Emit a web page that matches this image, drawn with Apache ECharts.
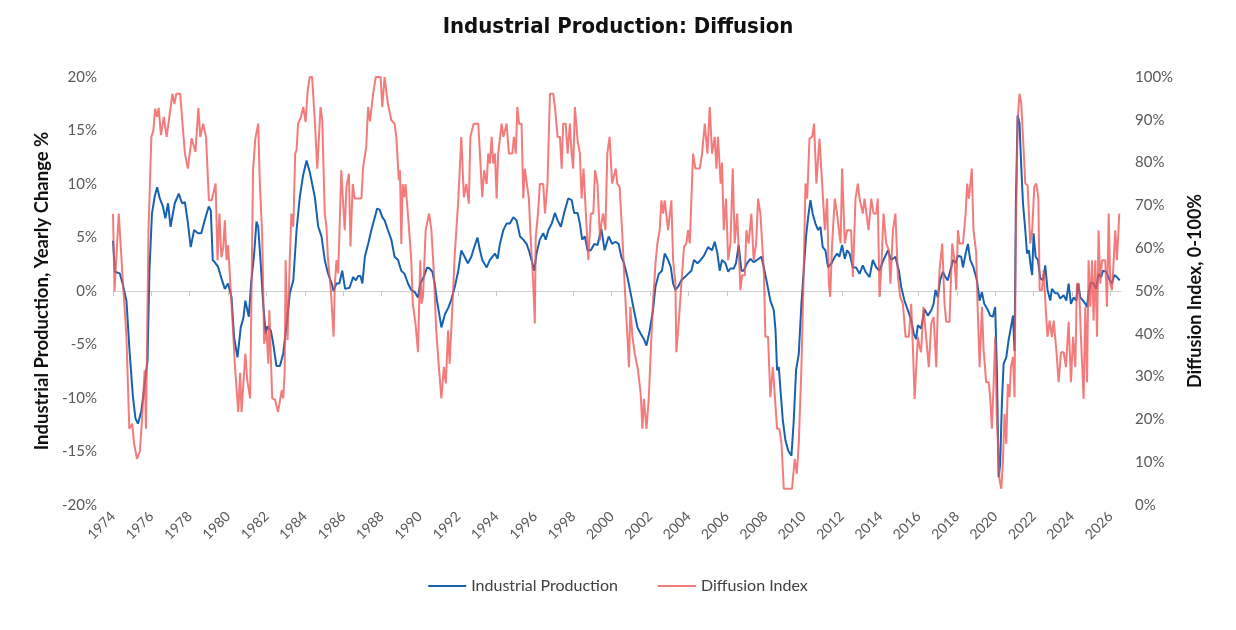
<!doctype html>
<html>
<head>
<meta charset="utf-8">
<title>Industrial Production: Diffusion</title>
<script src="https://cdn.jsdelivr.net/npm/echarts@6/dist/echarts.min.js"></script>
<style>
  html, body { margin: 0; padding: 0; background: #fff; }
  #chart { width: 1236px; height: 630px; }
</style>
</head>
<body>
<div id="chart"></div>
<script>
// x tick labels (every two years)
var yearTicks = [1974, 1976, 1978, 1980, 1982, 1984, 1986, 1988, 1990, 1992, 1994, 1996, 1998, 2000,
                 2002, 2004, 2006, 2008, 2010, 2012, 2014, 2016, 2018, 2020, 2022, 2024, 2026];

// Industrial Production, yearly change %
var ipYears = [
  1974.0, 1974.1, 1974.35, 1974.5, 1974.7, 1974.87, 1975.04, 1975.17, 1975.3, 1975.48, 1975.65, 1975.8, 1975.9,
  1976.03, 1976.17, 1976.3, 1976.44, 1976.6, 1976.73, 1976.87, 1977.0, 1977.22, 1977.43, 1977.6, 1977.75, 1977.91,
  1978.05, 1978.23, 1978.43, 1978.6, 1978.78, 1978.99, 1979.1, 1979.2, 1979.3, 1979.48, 1979.65, 1979.83,
  1980.0, 1980.18, 1980.31, 1980.49, 1980.66, 1980.8, 1980.9, 1981.08, 1981.2, 1981.36, 1981.48, 1981.57, 1981.7,
  1981.83, 1981.96, 1982.05, 1982.23, 1982.35, 1982.52, 1982.7, 1982.87, 1983.05, 1983.22, 1983.4, 1983.57,
  1983.74, 1983.91, 1984.09, 1984.26, 1984.36, 1984.52, 1984.7, 1984.87, 1985.04, 1985.2, 1985.4, 1985.5,
  1985.65, 1985.8, 1985.95, 1986.1, 1986.33, 1986.52, 1986.66, 1986.78, 1986.9, 1987.0, 1987.13, 1987.3,
  1987.47, 1987.65, 1987.77, 1987.9, 1988.04, 1988.16, 1988.33, 1988.51, 1988.68, 1988.86, 1989.03, 1989.2,
  1989.38, 1989.55, 1989.73, 1989.9, 1990.02, 1990.2, 1990.37, 1990.51, 1990.65, 1990.77, 1990.89, 1991.03,
  1991.12, 1991.3, 1991.47, 1991.64, 1991.82, 1992.0, 1992.16, 1992.33, 1992.5, 1992.68, 1992.85, 1993.0,
  1993.13, 1993.25, 1993.48, 1993.65, 1993.91, 1994.05, 1994.17, 1994.35, 1994.52, 1994.69, 1994.87, 1995.04,
  1995.22, 1995.39, 1995.56, 1995.68, 1995.82, 1995.96, 1996.08, 1996.25, 1996.43, 1996.56, 1996.7, 1996.87,
  1997.04, 1997.18, 1997.35, 1997.52, 1997.73, 1997.91, 1998.04, 1998.22, 1998.34, 1998.46, 1998.6, 1998.74,
  1998.91, 1999.09, 1999.26, 1999.46, 1999.63, 1999.84, 2000.02, 2000.19, 2000.36, 2000.5, 2000.64, 2000.82,
  2000.99, 2001.16, 2001.34, 2001.51, 2001.68, 2001.81, 2001.98, 2002.15, 2002.28, 2002.45, 2002.62, 2002.76,
  2002.94, 2003.08, 2003.2, 2003.32, 2003.46, 2003.63, 2003.81, 2003.98, 2004.15, 2004.29, 2004.47, 2004.64,
  2004.81, 2005.02, 2005.23, 2005.37, 2005.51, 2005.63, 2005.75, 2005.93, 2006.07, 2006.19, 2006.36, 2006.48,
  2006.62, 2006.76, 2006.88, 2007.06, 2007.23, 2007.4, 2007.58, 2007.8, 2007.93, 2008.1, 2008.27, 2008.45,
  2008.54, 2008.62, 2008.71, 2008.8, 2008.92, 2009.06, 2009.2, 2009.37, 2009.49, 2009.61, 2009.75, 2009.89,
  2010.01, 2010.13, 2010.24, 2010.36, 2010.48, 2010.62, 2010.76, 2010.88, 2011.0, 2011.14, 2011.28, 2011.46,
  2011.63, 2011.75, 2011.87, 2012.01, 2012.15, 2012.27, 2012.4, 2012.57, 2012.74, 2012.92, 2013.09, 2013.23,
  2013.44, 2013.61, 2013.79, 2013.96, 2014.17, 2014.4, 2014.57, 2014.79, 2014.97, 2015.09, 2015.26, 2015.44,
  2015.61, 2015.75, 2015.87, 2015.96, 2016.13, 2016.31, 2016.48, 2016.66, 2016.78, 2016.88, 2017.0, 2017.12,
  2017.26, 2017.4, 2017.52, 2017.65, 2017.79, 2017.93, 2018.05, 2018.22, 2018.31, 2018.45, 2018.57, 2018.69,
  2018.86, 2019.04, 2019.18, 2019.3, 2019.42, 2019.59, 2019.73, 2019.87, 2019.99, 2020.08, 2020.17, 2020.25,
  2020.34, 2020.43, 2020.57, 2020.69, 2020.78, 2020.92, 2021.0, 2021.07, 2021.16, 2021.26, 2021.35, 2021.44,
  2021.56, 2021.65, 2021.75, 2021.85, 2021.92, 2021.99, 2022.1, 2022.22, 2022.34, 2022.48, 2022.6, 2022.72,
  2022.86, 2022.95, 2023.12, 2023.25, 2023.38, 2023.56, 2023.7, 2023.82, 2023.94, 2024.08, 2024.22, 2024.31,
  2024.43, 2024.57, 2024.69, 2024.78, 2024.86, 2024.98, 2025.12, 2025.26, 2025.38, 2025.51, 2025.61, 2025.78,
  2025.91, 2026.08, 2026.2, 2026.34, 2026.48
];
var ipValues = [
  4.7, 1.8, 1.65, 0.7, -0.9, -5.8, -9.9, -11.9, -12.4, -11.2, -8.7, -6.5, 1.9,
  7.2, 8.8, 9.7, 8.65, 7.9, 6.8, 8.2, 6.0, 8.2, 9.1, 8.2, 8.3, 6.3,
  4.1, 5.7, 5.4, 5.4, 6.6, 7.9, 7.5, 2.9, 2.7, 2.25, 1.2, 0.2,
  0.7, -0.6, -4.3, -6.2, -3.4, -2.5, -0.9, -2.4, 0.7, 3.5, 6.5, 6.0, 2.6,
  -1.2, -4.0, -3.3, -3.7, -4.9, -7.0, -7.0, -5.9, -3.1, -0.2, 1.0, 5.7,
  8.8, 10.8, 12.2, 11.1, 11.0, 8.8, 6.0, 5.1, 2.9, 1.7, 0.7, 0.0,
  0.7, 0.7, 1.9, 0.2, 0.3, 1.3, 1.0, 1.4, 1.4, 0.7, 3.2, 4.4,
  5.7, 6.9, 7.7, 7.6, 6.9, 6.6, 5.7, 4.8, 3.2, 2.9, 1.9, 1.6,
  0.7, 0.1, -0.1, -0.6, 0.7, 1.3, 2.2, 2.1, 1.8, 0.7, -0.9, -2.4,
  -3.4, -2.2, -1.6, -0.8, 0.4, 1.9, 3.8, 3.2, 2.6, 3.2, 4.2, 5.0,
  3.8, 2.9, 2.2, 2.9, 3.5, 3.0, 4.4, 5.7, 6.3, 6.3, 6.9, 6.6,
  5.1, 4.8, 4.4, 3.8, 2.9, 1.9, 3.5, 4.8, 5.4, 4.8, 5.7, 6.3,
  7.3, 6.6, 6.0, 7.3, 8.65, 8.5, 7.3, 7.3, 6.3, 4.8, 5.1, 3.8,
  3.8, 4.4, 4.3, 5.8, 3.8, 5.1, 4.4, 4.6, 4.4, 3.2, 2.6, 1.3,
  -0.25, -1.8, -3.4, -4.0, -4.5, -5.1, -3.7, -1.8, 0.4, 1.6, 1.9, 3.5,
  2.9, 2.2, 0.7, 0.1, 0.4, 1.0, 1.3, 1.6, 1.9, 2.9, 2.6, 2.9,
  3.3, 4.1, 3.8, 4.6, 3.5, 1.9, 2.9, 2.6, 1.8, 2.1, 2.1, 2.6,
  4.3, 1.9, 1.9, 2.6, 3.0, 2.7, 2.9, 3.2, 2.2, 0.7, -0.9, -1.8,
  -3.7, -7.4, -7.1, -9.3, -12.1, -14.0, -14.9, -15.4, -12.1, -7.4, -5.9, -1.2,
  1.9, 5.1, 6.9, 8.5, 7.2, 6.3, 5.7, 6.0, 4.1, 3.8, 2.2, 2.6,
  3.2, 3.5, 3.2, 4.3, 3.0, 3.8, 3.5, 2.2, 2.2, 1.6, 2.4, 1.8,
  1.3, 2.9, 2.2, 1.9, 2.9, 3.8, 2.9, 3.2, 1.9, 0.4, -0.9, -1.8,
  -2.7, -4.0, -4.5, -3.2, -3.5, -1.7, -2.3, -1.8, -1.2, 0.1, -0.6, 1.0,
  1.8, 1.3, 1.0, 1.9, 2.9, 2.6, 3.3, 3.2, 2.2, 3.5, 4.4, 2.9,
  2.2, 1.0, -0.9, -0.1, -1.2, -1.7, -2.3, -2.4, -1.5, -7.4, -17.4, -16.2,
  -10.5, -6.8, -6.2, -4.6, -4.6, -2.3, -5.6, 8.2, 16.4, 15.7, 11.6, 8.2,
  5.7, 3.5, 3.8, 2.2, 1.5, 5.4, 3.2, 2.9, 1.2, 1.0, 2.4, 0.1,
  -0.9, 0.2, -0.2, -0.2, -0.7, -0.4, -0.9, 0.7, -1.2, -0.6, -0.9, 0.7,
  -0.6, -0.9, -1.2, -1.5, -0.1, 0.8, 0.7, 0.2, 1.6, 1.3, 1.9, 1.8,
  1.2, 0.7, 1.5, 1.3, 1.0
];

// Diffusion Index, 0-100%
var diYears = [
  1974.0, 1974.08, 1974.3, 1974.5, 1974.7, 1974.85, 1975.0, 1975.1, 1975.25, 1975.4, 1975.5, 1975.65, 1975.72,
  1975.85, 1976.0, 1976.1, 1976.2, 1976.3, 1976.38, 1976.5, 1976.65, 1976.8, 1977.0, 1977.1, 1977.2, 1977.3,
  1977.5, 1977.75, 1977.9, 1978.0, 1978.1, 1978.3, 1978.45, 1978.55, 1978.7, 1978.85, 1979.0, 1979.15, 1979.35,
  1979.45, 1979.55, 1979.65, 1979.75, 1979.83, 1979.92, 1980.0, 1980.18, 1980.35, 1980.53, 1980.63, 1980.7,
  1980.9, 1981.0, 1981.15, 1981.3, 1981.42, 1981.57, 1981.65, 1981.78, 1981.88, 1982.0, 1982.1, 1982.15,
  1982.3, 1982.45, 1982.6, 1982.7, 1982.8, 1982.87, 1982.95, 1983.0, 1983.1, 1983.22, 1983.3, 1983.4, 1983.5,
  1983.57, 1983.65, 1983.8, 1983.92, 1984.04, 1984.15, 1984.26, 1984.38, 1984.52, 1984.65, 1984.82, 1984.91,
  1985.04, 1985.13, 1985.2, 1985.36, 1985.5, 1985.56, 1985.65, 1985.74, 1985.82, 1985.9, 1986.0, 1986.08,
  1986.17, 1986.3, 1986.38, 1986.5, 1986.6, 1986.95, 1987.04, 1987.2, 1987.3, 1987.4, 1987.56, 1987.7,
  1987.95, 1988.04, 1988.16, 1988.33, 1988.51, 1988.68, 1988.77, 1988.9, 1988.96, 1989.03, 1989.1, 1989.18,
  1989.25, 1989.4, 1989.55, 1989.63, 1989.77, 1989.9, 1990.02, 1990.08, 1990.16, 1990.3, 1990.48, 1990.6,
  1990.72, 1990.85, 1991.0, 1991.12, 1991.25, 1991.35, 1991.47, 1991.55, 1991.7, 1991.82, 1992.0, 1992.16,
  1992.29, 1992.42, 1992.55, 1992.63, 1992.8, 1993.04, 1993.13, 1993.25, 1993.35, 1993.48, 1993.56, 1993.65,
  1993.74, 1993.82, 1993.91, 1994.0, 1994.08, 1994.26, 1994.35, 1994.52, 1994.64, 1994.82, 1994.9, 1995.0,
  1995.08, 1995.17, 1995.3, 1995.39, 1995.47, 1995.56, 1995.68, 1995.79, 1995.91, 1995.99, 1996.04, 1996.17,
  1996.25, 1996.43, 1996.52, 1996.65, 1996.78, 1996.95, 1997.04, 1997.18, 1997.3, 1997.39, 1997.47, 1997.6,
  1997.7, 1997.82, 1997.91, 1997.99, 1998.08, 1998.22, 1998.34, 1998.43, 1998.53, 1998.63, 1998.78, 1998.91,
  1999.04, 1999.13, 1999.26, 1999.39, 1999.46, 1999.55, 1999.67, 1999.77, 1999.89, 2000.02, 2000.12, 2000.21,
  2000.29, 2000.41, 2000.54, 2000.68, 2000.82, 2000.9, 2000.97, 2001.08, 2001.2, 2001.37, 2001.51, 2001.6,
  2001.68, 2001.81, 2001.93, 2002.03, 2002.15, 2002.28, 2002.38, 2002.5, 2002.59, 2002.68, 2002.76, 2002.85,
  2002.94, 2003.11, 2003.2, 2003.32, 2003.37, 2003.49, 2003.63, 2003.77, 2003.89, 2003.98, 2004.07, 2004.24,
  2004.36, 2004.59, 2004.71, 2004.85, 2004.99, 2005.11, 2005.23, 2005.37, 2005.46, 2005.54, 2005.68, 2005.75,
  2005.84, 2005.96, 2006.07, 2006.19, 2006.31, 2006.41, 2006.54, 2006.62, 2006.71, 2006.8, 2006.94, 2007.02,
  2007.14, 2007.28, 2007.4, 2007.53, 2007.63, 2007.75, 2007.84, 2007.93, 2008.01, 2008.15, 2008.27, 2008.4,
  2008.5, 2008.62, 2008.74, 2008.85, 2008.97, 2009.23, 2009.4, 2009.54, 2009.65, 2009.75, 2009.89, 2010.01,
  2010.1, 2010.19, 2010.31, 2010.45, 2010.55, 2010.67, 2010.83, 2010.97, 2011.11, 2011.23, 2011.32, 2011.39,
  2011.49, 2011.63, 2011.75, 2011.84, 2011.93, 2012.01, 2012.15, 2012.27, 2012.48, 2012.57, 2012.71, 2012.83,
  2012.92, 2013.0, 2013.09, 2013.18, 2013.27, 2013.39, 2013.53, 2013.65, 2013.79, 2013.87, 2013.96, 2014.05,
  2014.17, 2014.31, 2014.45, 2014.53, 2014.66, 2014.79, 2014.92, 2015.04, 2015.18, 2015.32, 2015.49, 2015.61,
  2015.7, 2015.79, 2015.87, 2015.96, 2016.05, 2016.13, 2016.25, 2016.39, 2016.53, 2016.66, 2016.78, 2016.92,
  2017.0, 2017.09, 2017.23, 2017.35, 2017.44, 2017.61, 2017.75, 2017.87, 2017.96, 2018.05, 2018.13, 2018.31,
  2018.45, 2018.53, 2018.62, 2018.7, 2018.77, 2018.86, 2019.0, 2019.07, 2019.18, 2019.3, 2019.39, 2019.52,
  2019.65, 2019.73, 2019.82, 2019.91, 2019.99, 2020.08, 2020.22, 2020.31, 2020.39, 2020.48, 2020.57, 2020.65,
  2020.74, 2020.81, 2020.92, 2021.0, 2021.07, 2021.16, 2021.26, 2021.35, 2021.44, 2021.56, 2021.68, 2021.82,
  2021.92, 2022.03, 2022.13, 2022.24, 2022.31, 2022.43, 2022.52, 2022.62, 2022.72, 2022.83, 2022.95, 2023.04,
  2023.18, 2023.3, 2023.42, 2023.56, 2023.68, 2023.82, 2023.94, 2024.05, 2024.17, 2024.25, 2024.36, 2024.46,
  2024.6, 2024.69, 2024.78, 2024.86, 2024.95, 2025.04, 2025.12, 2025.21, 2025.3, 2025.38, 2025.47, 2025.56,
  2025.73, 2025.82, 2025.91, 2025.99, 2026.08, 2026.17, 2026.25, 2026.34, 2026.46
];
var diValues = [
  68, 50, 68.1, 53.3, 39.3, 17.8, 19, 14.3, 10.8, 12.5, 19.1, 31.5, 17.8,
  64.2, 86, 87.4, 92.6, 90.7, 92.8, 86.4, 90.7, 86, 92.8, 96.1, 93.7, 96.1,
  96.1, 82.1, 78.6, 82.1, 85.7, 82.5, 92.8, 86, 89.1, 86, 71.2, 71.2, 75.1,
  57.2, 68.1, 57.9, 60.2, 66.5, 57.2, 60.7, 47, 33, 21.7, 30.9, 21.7,
  35.4, 29.1, 24.9, 78.2, 85.6, 89.1, 75.9, 62.6, 37.7, 40.8, 33, 45.5,
  24.9, 24.6, 21.7, 21.7, 26.8, 24.9, 30.9, 57.2, 38.5, 58, 68.1, 65, 82.1,
  82.9, 89.1, 90.7, 93, 89.5, 96.9, 100, 100, 89.9, 78.6, 93, 89.9,
  68.1, 65, 58, 50, 39.3, 51, 57.2, 54.1, 65.7, 78.2, 70.4, 64.2,
  74.3, 77.4, 60.4, 75, 71.6, 71.6, 79, 83.6, 93, 89.6, 96.1, 100,
  100, 93, 100, 93.8, 89.9, 89.1, 86, 75.9, 78.2, 61, 75, 71.9,
  75, 66.5, 57.2, 47, 42.4, 35.7, 57.2, 47, 48.6, 64.2, 68.1, 64.2,
  54.9, 40.8, 31.5, 24.9, 32.3, 28.4, 40.8, 33, 47, 58.8, 71.2, 86,
  71.9, 75, 70.4, 86, 89.1, 89.1, 82.1, 71.9, 78.2, 75, 82.1, 79.8,
  86, 79.8, 82.1, 71.6, 82.1, 89.1, 86, 89.1, 82.1, 82.1, 86, 82.1,
  93, 89.1, 89.1, 71.6, 78.6, 78.2, 71.6, 61, 51.7, 42.4, 62.6, 68.8,
  75, 75, 68.1, 75, 96.1, 96.1, 93, 86, 86, 78.6, 89.1, 89.1,
  82.1, 89.1, 82.1, 78.6, 93, 85.2, 82.1, 71.6, 78.6, 78.2, 57.2, 68.1,
  68.1, 78.2, 75, 61.8, 65.7, 68.1, 64.2, 82.1, 86, 75.1, 75.1, 78.6,
  75.1, 74.3, 64.2, 50.9, 39.3, 32.2, 46.3, 39.3, 35.4, 31.5, 26, 17.8,
  24.8, 17.8, 24.8, 35.4, 47, 56.4, 61.1, 64.2, 71.2, 68.1, 71.2, 71.2,
  64.2, 71.2, 57.2, 51.7, 35.7, 42.4, 51.7, 60.3, 61.1, 64.2, 61.1, 82.1,
  78.6, 78.6, 82.1, 89.1, 82.1, 93, 82.1, 86, 78.6, 86, 75.1, 80,
  64.2, 71.6, 57.2, 61.1, 78.6, 61.1, 68.1, 68.1, 50.2, 53.7, 53.7, 64.2,
  61.1, 68.1, 57.2, 61.1, 71.6, 68.1, 68.1, 54.8, 39.3, 39.3, 25.2, 32.2,
  32.2, 17.8, 17.8, 14.3, 3.8, 3.8, 3.8, 10.8, 7.3, 14.3, 32.2, 54.8,
  75.1, 71.6, 85.6, 86, 89.1, 75.1, 85.6, 75.1, 64.2, 71.6, 51.7, 48.6,
  61.1, 71.6, 68.1, 64.2, 61.1, 78.6, 61.1, 64.2, 64.2, 53.3, 71.6, 75.1,
  71.6, 71.6, 68.1, 71.6, 71.6, 64.2, 71.6, 68.1, 68.1, 71.6, 48.6, 54.8,
  68.1, 61.1, 59.5, 51.7, 64.2, 68.1, 53.3, 48.6, 47, 39.3, 39.3, 47,
  36.9, 24.8, 24.8, 39.3, 36.9, 35.7, 46.3, 39.3, 32.2, 42.4, 43.9, 32.2,
  46.3, 54.8, 61.1, 47, 42.8, 42.8, 61.1, 57.2, 50.2, 64.2, 61.1, 61.1,
  68.1, 75.1, 71.6, 75.1, 78.6, 64.2, 59, 47, 32.2, 46.3, 36.1, 28.7,
  28.7, 25.2, 17.8, 28.3, 39.3, 19.8, 5.8, 3.8, 9.7, 21.3, 14.3, 28.3,
  25.2, 32.2, 34.6, 25.2, 62.6, 89.9, 96.1, 93.8, 86, 75.1, 74.7, 61.1,
  64.2, 74.3, 75.1, 72, 50.2, 50.2, 54.8, 46.3, 39.3, 43.1, 39.3, 43.1,
  36.1, 28.7, 35.7, 35.7, 32.2, 42.8, 28.7, 39.3, 32.2, 51.7, 51.7, 39.3,
  24.8, 46.3, 28.7, 57.2, 46.3, 57.2, 43.1, 57.2, 39.3, 64.2, 51.7, 57.2,
  57.2, 46.3, 68.1, 51.7, 50.2, 57.2, 64.2, 57.2, 68.1
];

var ipData = ipYears.map(function (t, i) { return [t, ipValues[i]]; });
var diData = diYears.map(function (t, i) { return [t, diValues[i]]; });

var labelFont = 'Lato, "Open Sans", sans-serif';
var xMin = 1974, xMax = 2026.55;

var myChart = echarts.init(document.getElementById('chart'));
var option = {
  animation: false,
  backgroundColor: '#ffffff',
  title: {
    text: 'Industrial Production: Diffusion',
    left: 'center',
    top: 11,
    textStyle: {
      fontFamily: '"Liberation Sans Narrow", "DejaVu Sans Condensed", sans-serif',
      fontSize: 22,
      fontWeight: 'bold',
      color: '#111111'
    }
  },
  legend: {
    top: 573,
    left: 'center',
    icon: 'rect',
    itemWidth: 38,
    itemHeight: 2,
    itemGap: 40,
    textStyle: { fontFamily: labelFont, fontSize: 16, color: '#404040' },
    data: ['Industrial Production', 'Diffusion Index']
  },
  grid: { left: 113, right: 115, top: 77, bottom: 125, containLabel: false },
  xAxis: [
    {
      type: 'value',
      min: xMin,
      max: xMax,
      axisLine: { show: false, onZero: false },
      axisTick: { show: false },
      splitLine: { show: false },
      axisLabel: {
        customValues: yearTicks,
        rotate: 45,
        margin: 9,
        color: '#595959',
        fontFamily: labelFont,
        fontSize: 14,
        formatter: function (v) { return String(v); }
      }
    },
    {
      // zero line with the year ticks on it
      type: 'value',
      min: xMin,
      max: xMax,
      position: 'bottom',
      axisLine: { show: true, onZero: true, onZeroAxisIndex: 0, lineStyle: { color: '#d0d0d0', width: 1 } },
      axisTick: { show: true, customValues: yearTicks, length: 5, lineStyle: { color: '#c8c8c8' } },
      axisLabel: { show: false },
      splitLine: { show: false }
    }
  ],
  yAxis: [
    {
      type: 'value',
      min: -20,
      max: 20,
      interval: 5,
      name: 'Industrial Production, Yearly Change %',
      nameLocation: 'middle',
      nameRotate: 90,
      nameGap: 60,
      nameTextStyle: { fontFamily: labelFont, fontSize: 18.5, fontWeight: 'bold', color: '#111111' },
      axisLine: { show: false },
      axisTick: { show: false },
      splitLine: { show: false },
      axisLabel: {
        margin: 16,
        color: '#595959',
        fontFamily: labelFont,
        fontSize: 15,
        formatter: function (v) { return v + '%'; }
      }
    },
    {
      type: 'value',
      min: 0,
      max: 100,
      interval: 10,
      position: 'right',
      name: 'Diffusion Index, 0-100%',
      nameLocation: 'middle',
      nameRotate: 90,
      nameGap: 65,
      nameTextStyle: { fontFamily: labelFont, fontSize: 18, fontWeight: 'bold', color: '#111111' },
      axisLine: { show: false },
      axisTick: { show: false },
      splitLine: { show: false },
      axisLabel: {
        margin: 14,
        color: '#595959',
        fontFamily: labelFont,
        fontSize: 15,
        formatter: function (v) { return v + '%'; }
      }
    }
  ],
  series: [
    {
      name: 'Industrial Production',
      type: 'line',
      xAxisIndex: 0,
      yAxisIndex: 0,
      data: ipData,
      showSymbol: false,
      symbol: 'none',
      color: '#1762b0',
      lineStyle: { color: '#1762b0', width: 2 },
      z: 2
    },
    {
      name: 'Diffusion Index',
      type: 'line',
      xAxisIndex: 0,
      yAxisIndex: 1,
      data: diData,
      showSymbol: false,
      symbol: 'none',
      color: 'rgba(240,86,86,0.78)',
      lineStyle: { color: 'rgba(240,86,86,0.78)', width: 2 },
      z: 3
    }
  ]
};
myChart.setOption(option);
</script>
</body>
</html>
